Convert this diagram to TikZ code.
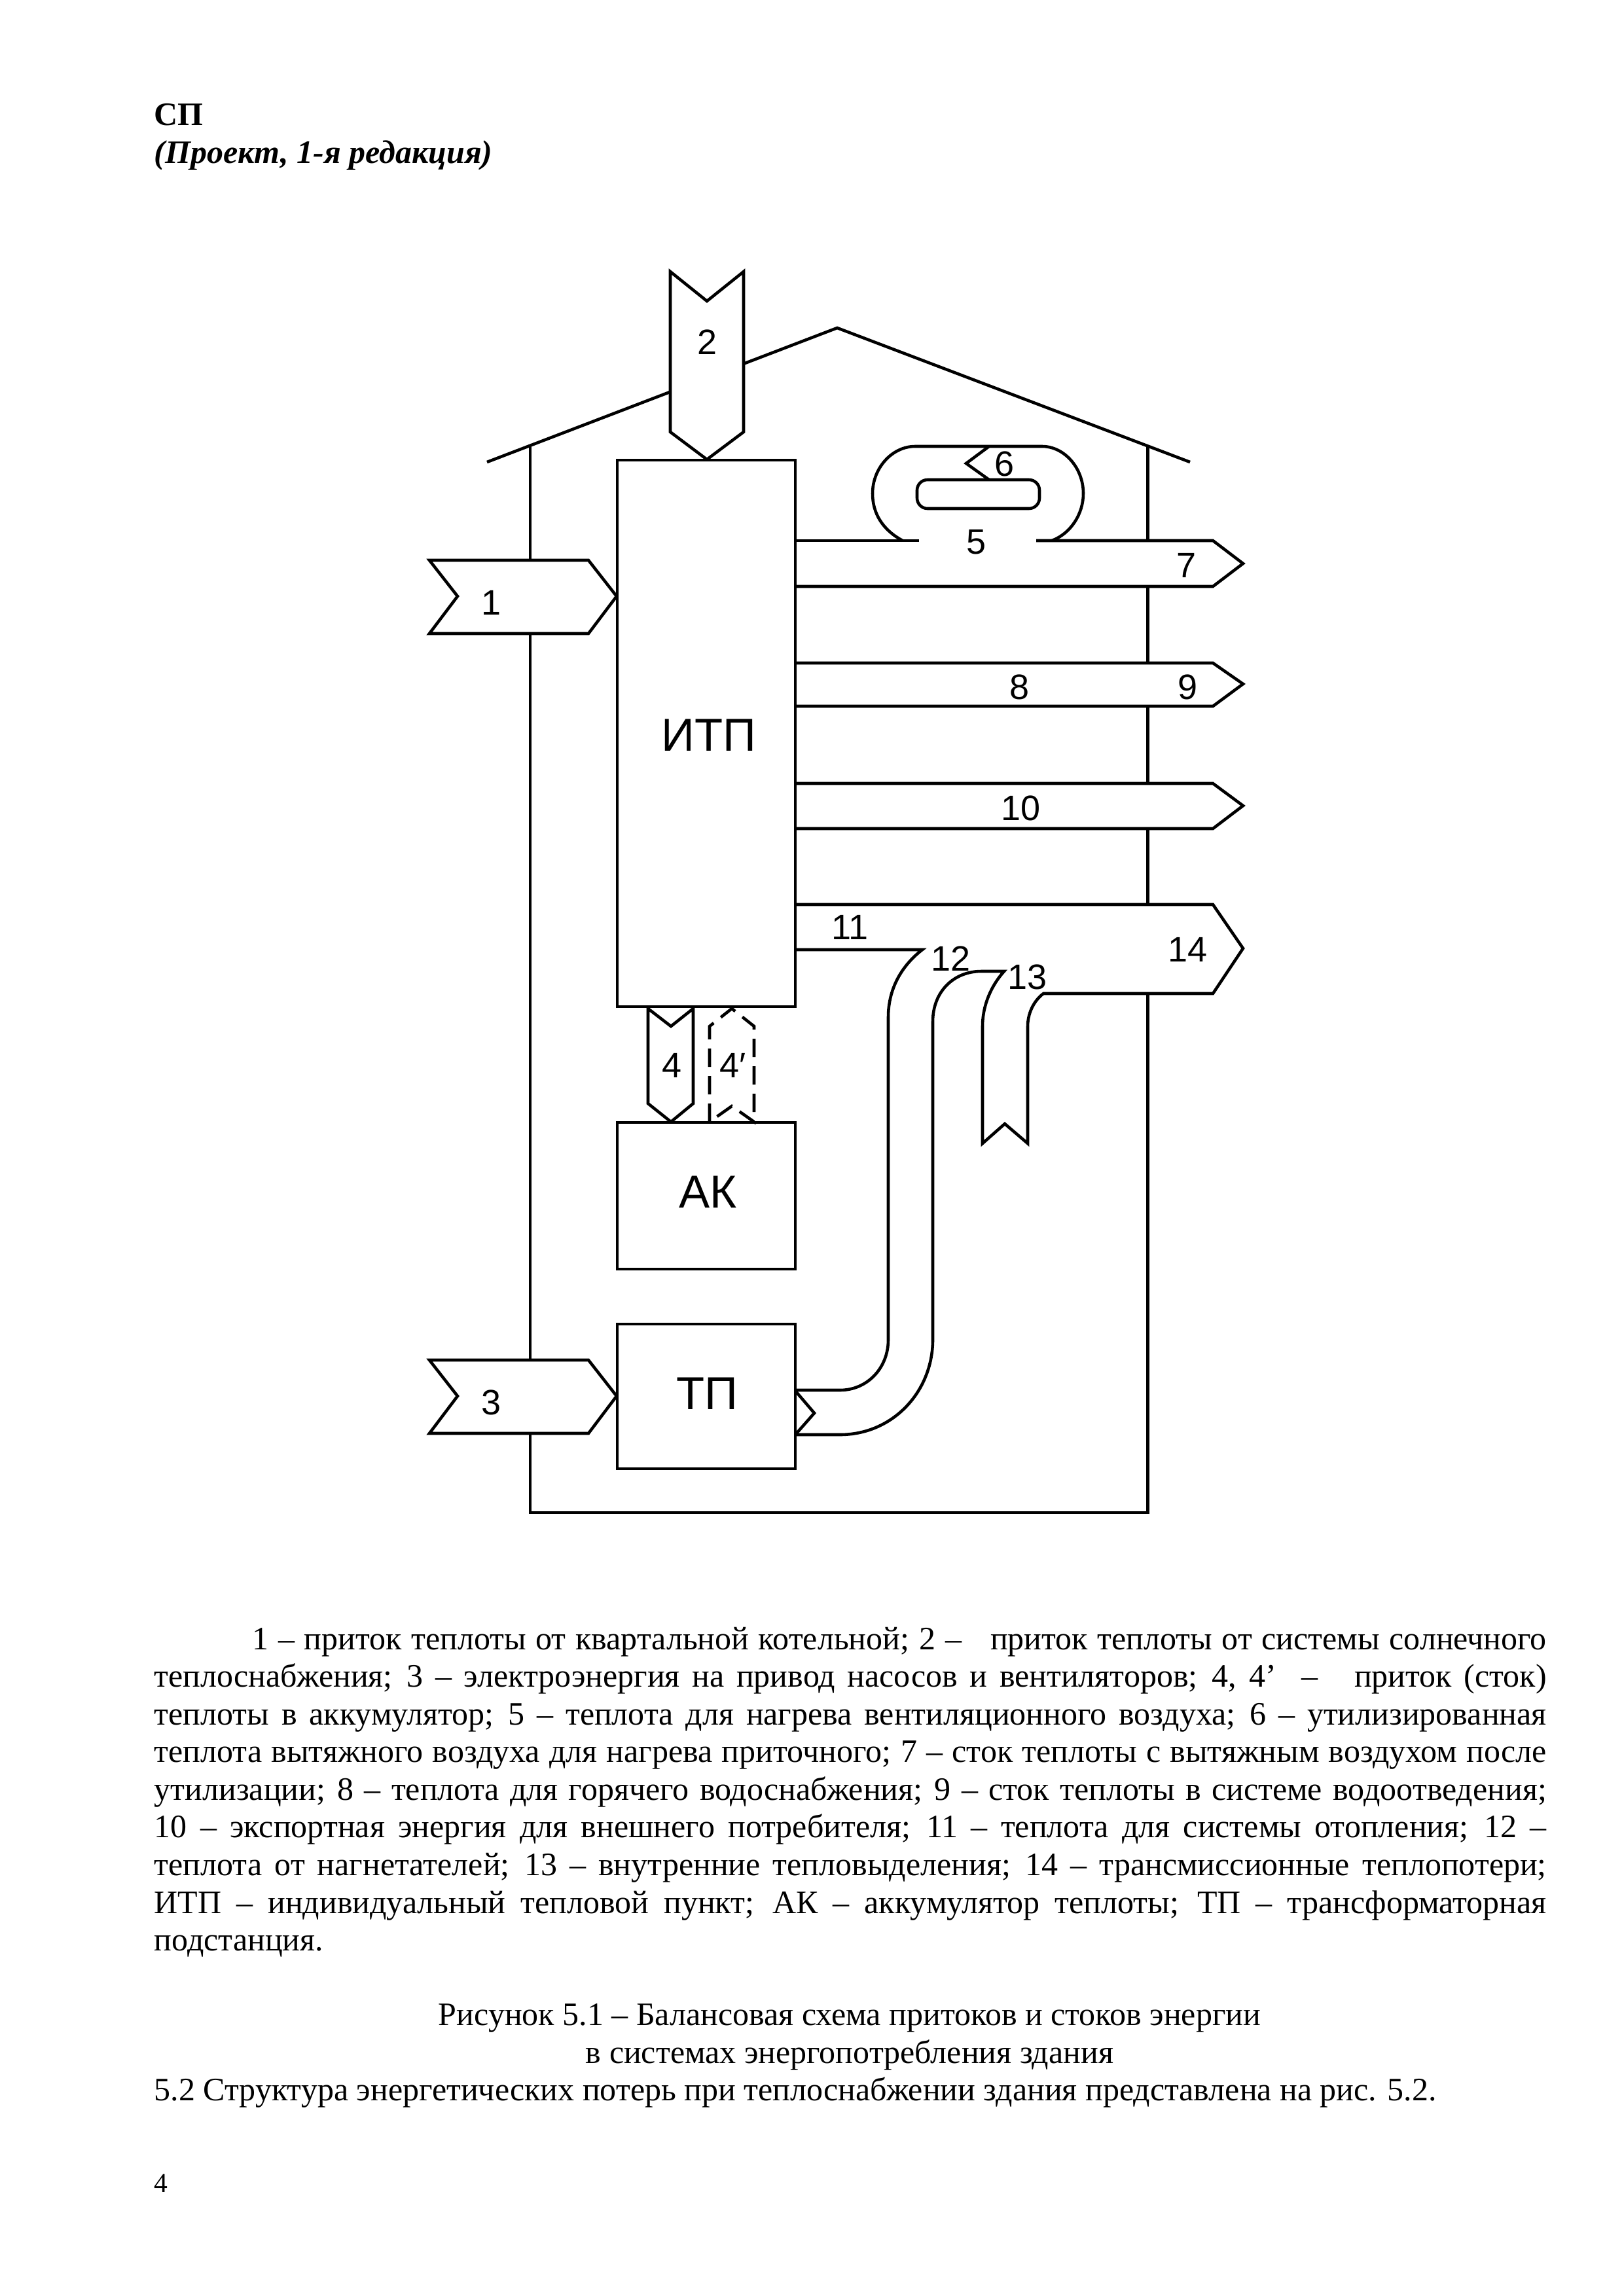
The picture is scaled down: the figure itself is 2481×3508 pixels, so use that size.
\documentclass[tikz,border=0pt]{standalone}
\usepackage{fontspec}
\setmainfont{Liberation Serif}
\newfontfamily\labfont{Liberation Sans}
\def\u{0.2409pt}
\tikzset{
  ln/.style={draw=black,line width=1.1pt,line join=miter},
  flow/.style={ln,fill=white},
  box/.style={ln,rectangle,inner sep=0pt,outer sep=0pt,anchor=north west},
  big/.style={inner sep=0pt,font=\labfont\fontsize{17}{20}\selectfont},
  lab/.style={inner sep=0pt,font=\labfont\fontsize{13}{15}\selectfont},
  body/.style={inner sep=0pt,anchor=north west,text width=2127*\u,align=justify,font=\fontsize{12.045}{13.87}\selectfont},
  capt/.style={inner sep=0pt,align=center,font=\fontsize{12.045}{13.87}\selectfont},
  plain/.style={inner sep=0pt,anchor=base west,font=\fontsize{12.045}{13.87}\selectfont}
}
\begin{document}
\begin{tikzpicture}[x=0.2409pt,y=-0.2409pt]
\useasboundingbox (0,0) rectangle (2481,3508);
\fill[white] (0,0) rectangle (2481,3508);

% header
\node[plain,font=\bfseries\fontsize{12.045}{14}\selectfont] (hdrA) at (235,191) {СП};
\node[plain,font=\bfseries\itshape\fontsize{12.045}{14}\selectfont] (hdrB) at (235,249) {(Проект, 1-я редакция)};

% house
\draw[ln] (744,706) -- (1279,501) coordinate (apex) -- (1818,706);
\draw[ln] (810,681) -- (810,2311) -- (1753.5,2311) -- (1753.5,681);

% flow 2
\draw[flow] (1024,415) -- (1080,460) -- (1136,415) -- (1136,660) -- (1080,702) -- (1024,660) -- cycle;
% flow 1
\draw[flow] (656,856) -- (899,856) -- (942,911) -- (899,968) -- (656,968) -- (699,911) -- cycle;
% flow 3
\draw[flow] (656,2078) -- (899,2078) -- (942,2133) -- (899,2190) -- (656,2190) -- (699,2133) -- cycle;

% flow 5-7
\fill[white] (1215,826) rectangle (1853,896);
\draw[ln] (1215,826) -- (1404,826);
\draw[ln] (1583,826) -- (1853,826) -- (1899,861) -- (1853,896) -- (1215,896);
\draw[ln] (1379,826) .. controls (1349,810) and (1333,785) .. (1333,754)
  .. controls (1333,715) and (1363,682) .. (1398,682) -- (1592,682)
  .. controls (1626,682) and (1655,715) .. (1655,754)
  .. controls (1655,785) and (1636,815) .. (1607,826);
\draw[ln,rounded corners=16*\u] (1401,733) rectangle (1588,777);
\draw[ln] (1511,682) -- (1476,708) -- (1511,733);

% flow 8-9
\draw[flow] (1215,1013) -- (1853,1013) -- (1899,1045) -- (1853,1079) -- (1215,1079);
% flow 10
\draw[flow] (1215,1197) -- (1853,1197) -- (1899,1231) -- (1853,1266) -- (1215,1266);

% flow 11-14
\fill[white] (1215,1382) rectangle (1853,1451);
\fill[white] (1594,1451) rectangle (1853,1518);
\draw[ln] (1215,1382) -- (1853,1382) -- (1899,1449) -- (1853,1518) -- (1594,1518)
  .. controls (1578,1530) and (1570,1550) .. (1570,1568) -- (1570,1747) -- (1535,1717) -- (1501,1747) -- (1501,1568)
  .. controls (1501,1535) and (1515,1505) .. (1534,1484) -- (1499,1484)
  .. controls (1457,1484) and (1425,1515) .. (1425,1561) -- (1425,2047)
  .. controls (1425,2125) and (1365,2192) .. (1283,2192) -- (1215,2192);
\draw[ln] (1215,2124) -- (1283,2124) .. controls (1325,2124) and (1357,2090) .. (1357,2047) -- (1357,1554)
  .. controls (1357,1510) and (1378,1475) .. (1409,1451) -- (1215,1451);
\draw[ln] (1215,2125) -- (1244,2159) -- (1215,2192);

% boxes
\node[box,minimum width=272*\u,minimum height=835*\u] (itp) at (943,703) {};
\node[box,minimum width=272*\u,minimum height=224*\u] (ak) at (943,1715) {};
\node[box,minimum width=272*\u,minimum height=221*\u] (tp) at (943,2023) {};
\node[big] (itpL) at (1083,1123) {ИТП};
\node[big] (akL) at (1082,1821) {АК};
\node[big] (tpL) at (1080,2129) {ТП};

% flow 4, 4'
\draw[flow] (990,1541) -- (1025,1568) -- (1059,1541) -- (1059,1686) -- (1025,1714) -- (990,1686) -- cycle;
\draw[ln,dash pattern=on 28*\u off 14*\u] (1084,1714) -- (1084,1568) -- (1118,1541) -- (1152,1568) -- (1152,1714) -- (1118,1690) -- cycle;

% labels
\node[lab] (n1) at (750,921) {1};
\node[lab] (n2) at (1080,523) {2};
\node[lab] (n3) at (750,2143) {3};
\node[lab] (n4) at (1026,1628) {4};
\node[lab] (n4p) at (1120,1628) {4′};
\node[lab] (n5) at (1491,828) {5};
\node[lab] (n6) at (1534,709) {6};
\node[lab] (n7) at (1812,864) {7};
\node[lab] (n8) at (1557,1050) {8};
\node[lab] (n9) at (1814,1050) {9};
\node[lab] (n10) at (1559,1235) {10};
\node[lab] (n11) at (1298,1417) {11};
\node[lab] (n12) at (1452,1465) {12};
\node[lab] (n13) at (1569,1493) {13};
\node[lab] (n14) at (1814,1451) {14};

% text
\node[body] (legend) at (235,2485) {\tolerance=10000\hbadness=10000\hfuzz=20pt
\hspace*{150\dimexpr\u\relax}1 – приток теплоты от квартальной котельной; 2 – \ \ приток теплоты от системы солнечного\linebreak
теплоснабжения; 3 – электроэнергия на привод насосов и вентиляторов; 4, 4’ \ – \ \ приток (сток)\linebreak
теплоты в аккумулятор; 5 – теплота для нагрева вентиляционного воздуха; 6 – утилизированная\linebreak
теплота вытяжного воздуха для нагрева приточного; 7 – сток теплоты с вытяжным воздухом после\linebreak
утилизации; 8 – теплота для горячего водоснабжения; 9 – сток теплоты в системе водоотведения;\linebreak
10 – экспортная энергия для внешнего потребителя; 11 – теплота для системы отопления; 12 –\linebreak
теплота от нагнетателей; 13 – внутренние тепловыделения; 14 – трансмиссионные теплопотери;\linebreak
ИТП – индивидуальный тепловой пункт; АК – аккумулятор теплоты; ТП – трансформаторная\linebreak
подстанция.};
\node[capt,anchor=base] (capt) at (1298,3152) {Рисунок 5.1 – Балансовая схема притоков и стоков энергии\\в системах энергопотребления здания};
\node[plain] (next) at (235,3209) {5.2 Структура энергетических потерь при теплоснабжении здания представлена на рис. 5.2.};
\node[plain,font=\fontsize{10}{12}\selectfont] (pg) at (235,3349) {4};
\end{tikzpicture}
\end{document}
